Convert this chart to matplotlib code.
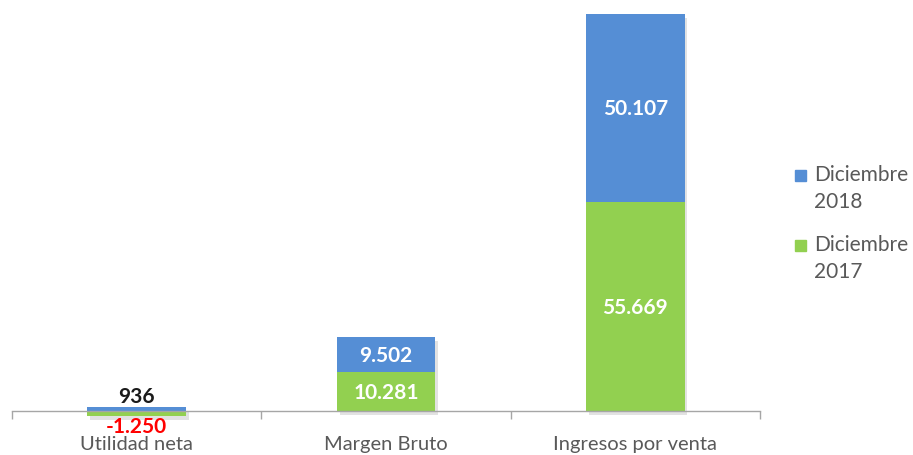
import matplotlib
matplotlib.use("Agg")
import matplotlib.pyplot as plt
import matplotlib.patheffects as pe
from matplotlib.patches import Rectangle

categories = ["Utilidad neta", "Margen Bruto", "Ingresos por venta"]
dic2017 = [-1250, 10281, 55669]
dic2018 = [936, 9502, 50107]
labels2017 = ["-1.250", "10.281", "55.669"]
labels2018 = ["936", "9.502", "50.107"]
series_names = ["Diciembre\n2018", "Diciembre\n2017"]

blue = "#558ED5"
green = "#92D050"
gray = "#595959"
plt.rcParams['font.family'] = ['Lato', 'DejaVu Sans']

W, H = 913, 456
fig = plt.figure(figsize=(W/100, H/100), dpi=100)
ax = fig.add_axes([12/W, (H-412)/H, (760-12)/W, (412-15)/H])

x = list(range(len(categories)))
width = 0.395
bottoms18 = [max(v, 0) for v in dic2017]
lows = [min(v, 0) for v in dic2017]
tops = [b + v for b, v in zip(bottoms18, dic2018)]
sh = ax.bar(x, [t - l for t, l in zip(tops, lows)], width=width, bottom=lows,
            color="white", clip_on=False, zorder=2)
for b in sh:
    b.set_path_effects([pe.SimplePatchShadow(offset=(2, -3), alpha=0.22,
                                             shadow_rgbFace="#7f7f7f"), pe.Normal()])
b17 = ax.bar(x, dic2017, width=width, color=green, clip_on=False, zorder=3)
b18 = ax.bar(x, dic2018, width=width, bottom=bottoms18, color=blue, clip_on=False, zorder=3)

ax.set_xlim(-0.5, 2.5)
total_top = dic2017[2] + dic2018[2]
ax.set_ylim(0, total_top)

fs = 15
for i in range(len(categories)):
    v17, v18 = dic2017[i], dic2018[i]
    if v17 < 0:
        ax.annotate(labels2017[i], (i, v17), xytext=(0, 0), textcoords="offset points",
                    ha="center", va="top", color="red", fontsize=fs, fontweight="bold",
                    annotation_clip=False, zorder=5)
        ax.annotate(labels2018[i], (i, v18), xytext=(0, 1), textcoords="offset points",
                    ha="center", va="bottom", color="#1a1a1a", fontsize=fs, fontweight="bold",
                    annotation_clip=False, zorder=5)
    else:
        ax.text(i, v17/2, labels2017[i], ha="center", va="center", color="white",
                fontsize=fs, fontweight="bold", zorder=5)
        ax.text(i, v17 + v18/2, labels2018[i], ha="center", va="center", color="white",
                fontsize=fs, fontweight="bold", zorder=5)

for s in ["top", "right", "left"]:
    ax.spines[s].set_visible(False)
ax.spines["bottom"].set_color("#a6a6a6")
ax.spines["bottom"].set_linewidth(1.0)
ax.spines["bottom"].set_zorder(4)
ax.set_yticks([])
ax.set_xticks(x)
ax.set_xticklabels(categories, fontsize=14.5, color=gray)
ax.tick_params(axis="x", which="major", length=0, pad=17)
ax.set_xticks([-0.5, 0.5, 1.5, 2.5], minor=True)
ax.tick_params(axis="x", which="minor", length=6, color="#a6a6a6", width=1)

# legend (manual, marker aligned with first text line)
for name, col, yc in zip(series_names, [blue, green], [176, 246]):
    fig.patches.append(Rectangle((795/W, 1 - (yc + 6)/H), 11/W, 11/H,
                                 transform=fig.transFigure, color=col))
    fig.text(814/W, 1 - (yc - 11)/H, name, ha="left", va="top", fontsize=15,
             color=gray, linespacing=1.45)

fig.savefig("out.png", dpi=100)
